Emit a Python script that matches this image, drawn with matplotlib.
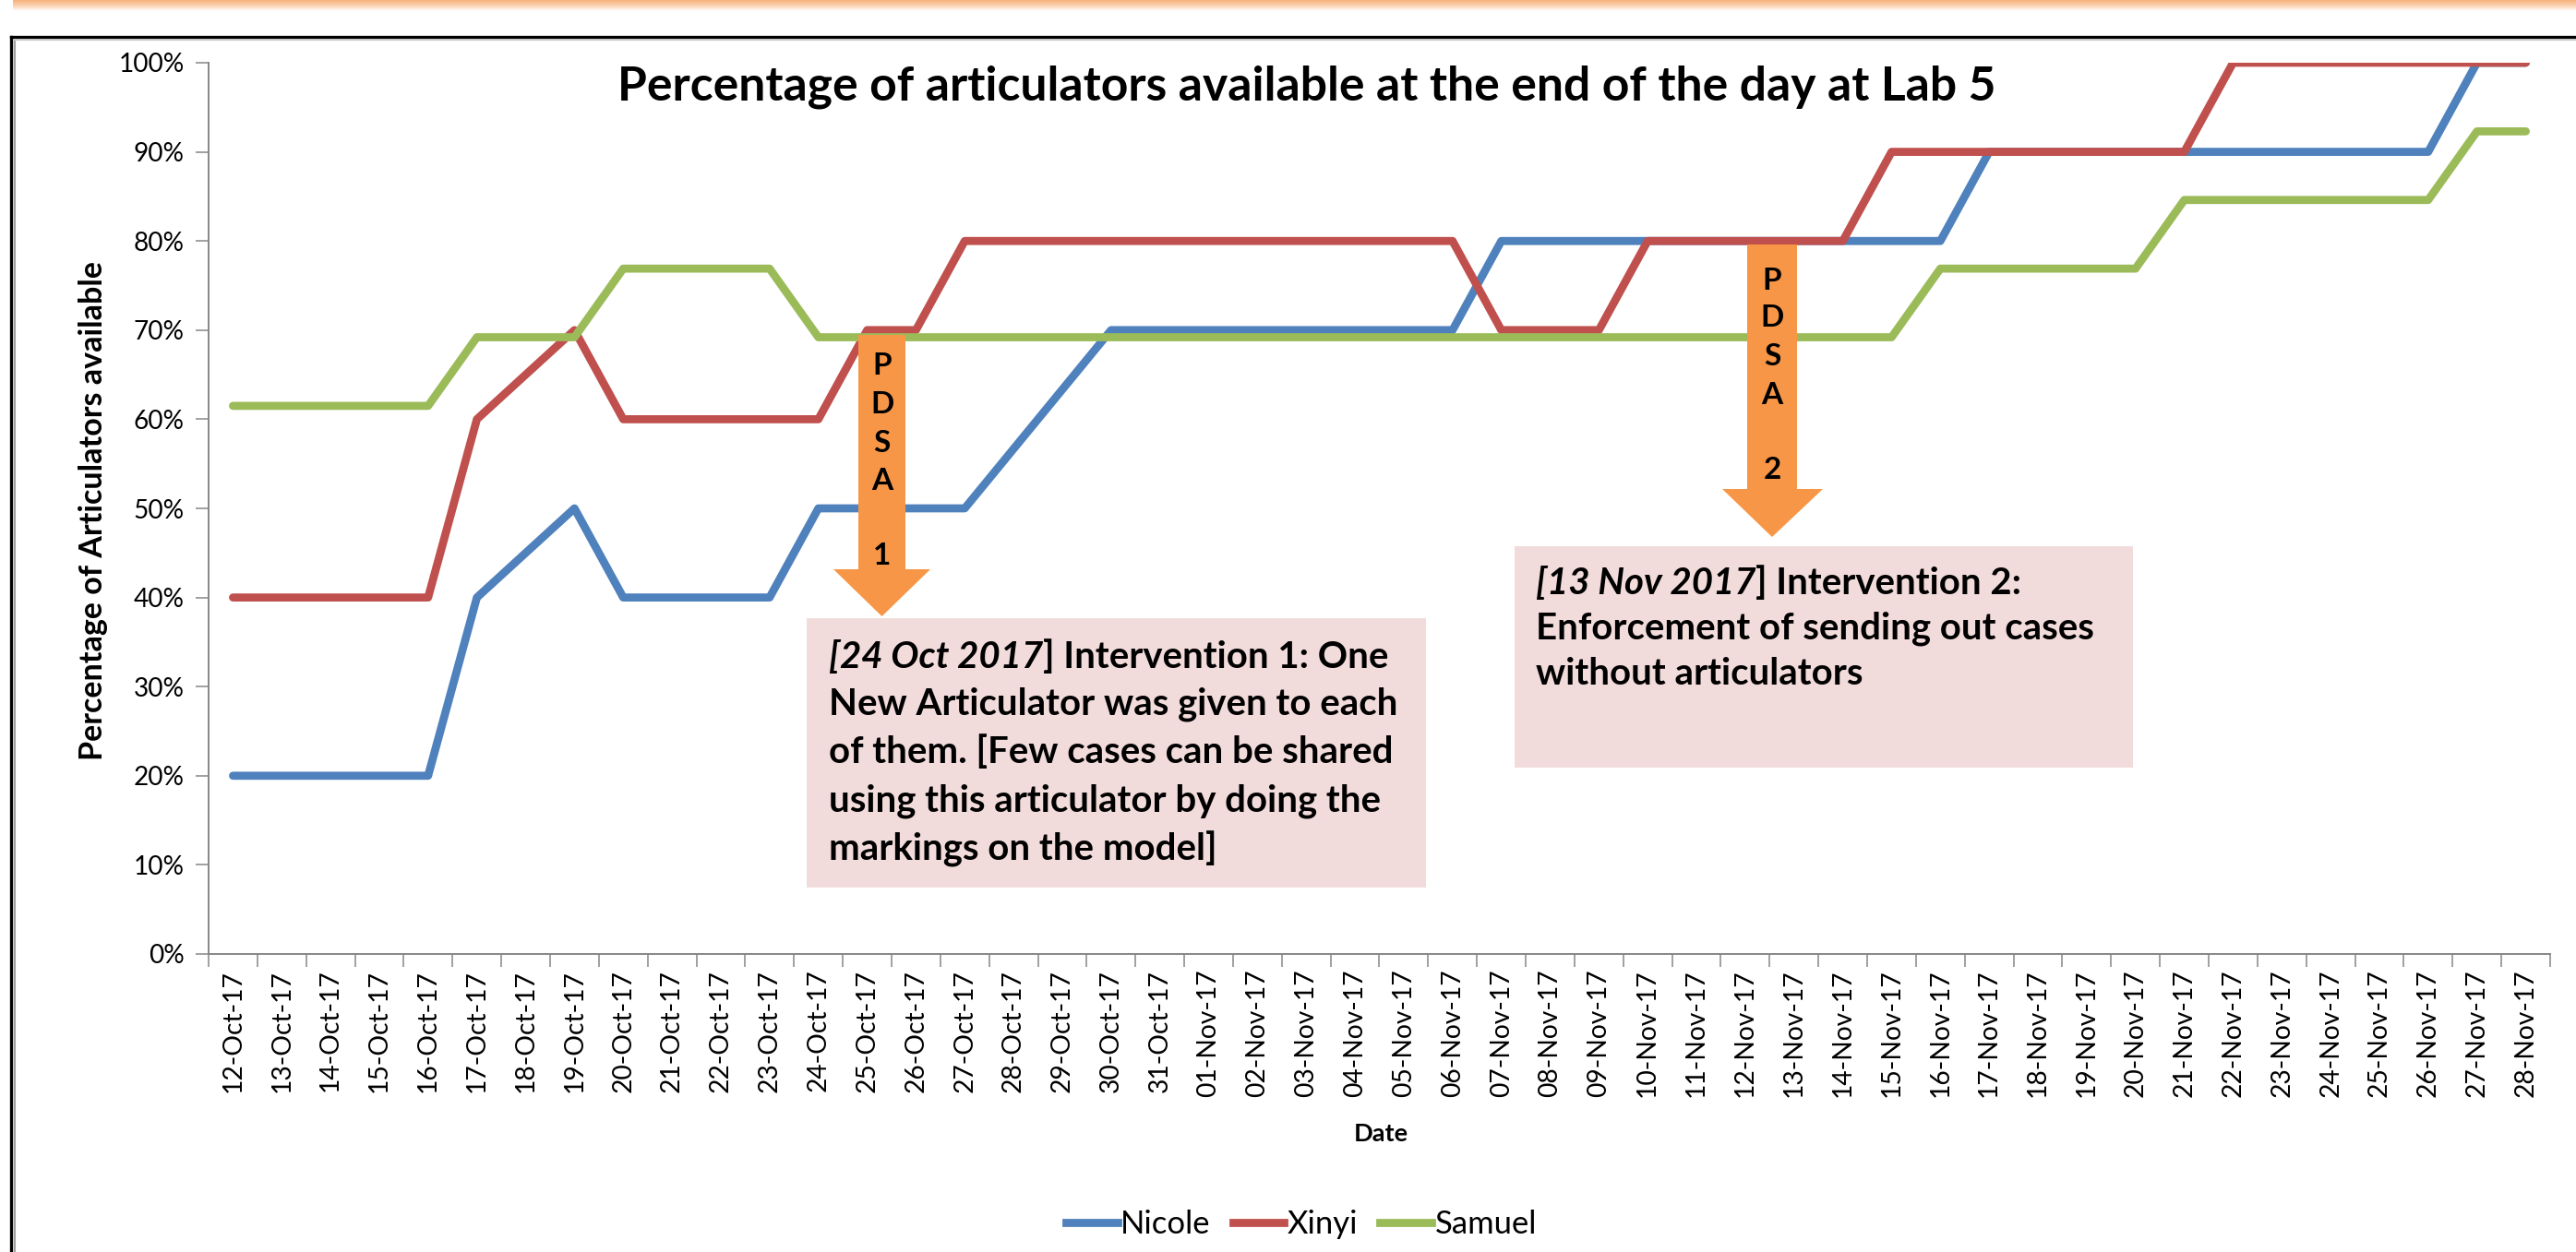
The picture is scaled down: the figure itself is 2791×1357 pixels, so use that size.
import matplotlib
matplotlib.use("Agg")
import matplotlib.pyplot as plt
import numpy as np
from matplotlib.patches import Rectangle, Polygon
from matplotlib.lines import Line2D
from matplotlib.colors import LinearSegmentedColormap

# ---------------- data ----------------
dates = ["12-Oct-17", "13-Oct-17", "14-Oct-17", "15-Oct-17", "16-Oct-17", "17-Oct-17",
         "18-Oct-17", "19-Oct-17", "20-Oct-17", "21-Oct-17", "22-Oct-17", "23-Oct-17",
         "24-Oct-17", "25-Oct-17", "26-Oct-17", "27-Oct-17", "28-Oct-17", "29-Oct-17",
         "30-Oct-17", "31-Oct-17", "01-Nov-17", "02-Nov-17", "03-Nov-17", "04-Nov-17",
         "05-Nov-17", "06-Nov-17", "07-Nov-17", "08-Nov-17", "09-Nov-17", "10-Nov-17",
         "11-Nov-17", "12-Nov-17", "13-Nov-17", "14-Nov-17", "15-Nov-17", "16-Nov-17",
         "17-Nov-17", "18-Nov-17", "19-Nov-17", "20-Nov-17", "21-Nov-17", "22-Nov-17",
         "23-Nov-17", "24-Nov-17", "25-Nov-17", "26-Nov-17", "27-Nov-17", "28-Nov-17"]

# None = no entry that day (line drawn straight across, as in the original)
nicole = [0.20, 0.20, 0.20, 0.20, 0.20, 0.40, None, 0.50, 0.40, 0.40, 0.40, 0.40,
          0.50, 0.50, 0.50, 0.50, None, None, 0.70, 0.70, 0.70, 0.70, 0.70, 0.70,
          0.70, 0.70, 0.80, 0.80, 0.80, 0.80, 0.80, 0.80, 0.80, 0.80, 0.80, 0.80,
          0.90, 0.90, 0.90, 0.90, 0.90, 0.90, 0.90, 0.90, 0.90, 0.90, 1.00, 1.00]
xinyi = [0.40, 0.40, 0.40, 0.40, 0.40, 0.60, None, 0.70, 0.60, 0.60, 0.60, 0.60,
         0.60, 0.70, 0.70, 0.80, None, None, 0.80, 0.80, 0.80, 0.80, 0.80, 0.80,
         0.80, 0.80, 0.70, 0.70, 0.70, 0.80, 0.80, 0.80, 0.80, 0.80, 0.90, 0.90,
         0.90, 0.90, 0.90, 0.90, 0.90, 1.00, 1.00, 1.00, 1.00, 1.00, 1.00, 1.00]
samuel = [0.615, 0.615, 0.615, 0.615, 0.615, 0.692, None, 0.692, 0.769, 0.769, 0.769, 0.769,
          0.692, 0.692, 0.692, 0.692, None, None, 0.692, 0.692, 0.692, 0.692, 0.692, 0.692,
          0.692, 0.692, 0.692, 0.692, 0.692, 0.692, 0.692, 0.692, 0.692, 0.692, 0.692, 0.769,
          0.769, 0.769, 0.769, 0.769, 0.846, 0.846, 0.846, 0.846, 0.846, 0.846, 0.923, 0.923]

series_names = ["Nicole", "Xinyi", "Samuel"]
series_values = [nicole, xinyi, samuel]
series_colors = ["#4F81BD", "#C0504D", "#9BBB59"]
ytick_values = [0.0, 0.1, 0.2, 0.3, 0.4, 0.5, 0.6, 0.7, 0.8, 0.9, 1.0]

title = "Percentage of articulators available at the end of the day at Lab 5"
ylabel = "Percentage of Articulators available"
xlabel = "Date"
box1_lines = [("[24 Oct 2017", "] Intervention 1: One"),
              ("", "New Articulator was given to each"),
              ("", "of them. [Few cases can be shared"),
              ("", "using this articulator by doing the"),
              ("", "markings on the model]")]
box2_lines = [("[13 Nov 2017", "] Intervention 2:"),
              ("", "Enforcement of sending out cases"),
              ("", "without articulators")]
arrow1_letters = ["P", "D", "S", "A", "", "1"]
arrow2_letters = ["P", "D", "S", "A", "", "2"]

# ---------------- figure ----------------
W, H = 2791, 1357
DPI = 100
FONT = "Lato"
fig = plt.figure(figsize=(W / DPI, H / DPI), dpi=DPI, facecolor="white")

def fx(x):
    return x / W

def fy(y):
    return 1 - y / H

renderer = fig.canvas.get_renderer()

def fit(text, target_px, **kw):
    t = fig.text(0, 0, text, fontsize=10, **kw)
    w = t.get_window_extent(renderer).width
    t.remove()
    return 10 * target_px / w

# axes (plot area)
ax_l, ax_r, ax_t, ax_b = 226, 2763, 68, 1034
ax = fig.add_axes([fx(ax_l), fy(ax_b), fx(ax_r) - fx(ax_l), (ax_b - ax_t) / H])
ax.set_facecolor("none")

for name, vals, col in zip(series_names, series_values, series_colors):
    xs = [i for i, v in enumerate(vals) if v is not None]
    ys = [v for v in vals if v is not None]
    ax.plot(xs, ys, color=col, lw=6.3, solid_joinstyle="round",
            solid_capstyle="round", label=name, zorder=3)

ax.set_xlim(-0.5, len(dates) - 0.5)
ax.set_ylim(0, 1)

tick_fs = fit("12-Oct-17", 133, family=FONT)
ytick_fs = fit("100%", 71, family=FONT)

ax.set_xticks(range(len(dates)))
ax.set_xticklabels(dates, rotation=90, fontsize=tick_fs, family=FONT, va="top", ha="center")
ax.set_xticks(np.arange(-0.5, len(dates), 1.0), minor=True)
ax.tick_params(axis="x", which="major", length=0, pad=12)
ax.tick_params(axis="x", which="minor", length=10, width=1.1, color="#868686", direction="out")

ax.set_yticks(ytick_values)
ax.set_yticklabels([f"{int(round(v * 100))}%" for v in ytick_values], fontsize=ytick_fs, family=FONT)
ax.tick_params(axis="y", which="major", length=10, width=1.1, color="#868686", direction="out", pad=9)

for s in ["top", "right"]:
    ax.spines[s].set_visible(False)
for s in ["left", "bottom"]:
    ax.spines[s].set_color("#868686")
    ax.spines[s].set_linewidth(1.4)

# title & axis labels
title_fs = fit(title, 1496, family=FONT, weight="bold")
fig.text(fx(1416), fy(94), title, fontsize=title_fs, family=FONT, weight="bold",
         ha="center", va="center")
yl_fs = fit(ylabel, 540, family=FONT, weight="bold")
fig.text(fx(101), fy(554), ylabel, fontsize=yl_fs, family=FONT, weight="bold",
         rotation=90, ha="center", va="center")
xl_fs = fit(xlabel, 59, family=FONT, weight="bold")
fig.text(fx(1496), fy(1229), xlabel, fontsize=xl_fs, family=FONT, weight="bold",
         ha="center", va="center")

# legend
leg_fs = fit("Samuel", 110, family=FONT)
handles = [Line2D([], [], color=c, lw=6.3) for c in series_colors]
fig.legend(handles, series_names, loc="center", bbox_to_anchor=(fx(1410), fy(1327)),
           ncol=3, frameon=False, prop={"family": FONT, "size": leg_fs},
           handlelength=1.6, handletextpad=0.1, columnspacing=0.7)

# ---------------- annotations ----------------
ORANGE = "#F79646"
PINK = "#F2DCDB"

def arrow(xl, xr, top, hl, hr, base, tip):
    cx = (xl + xr) / 2
    pts = [(xl, top), (xr, top), (xr, base), (hr, base), (cx, tip), (hl, base), (xl, base)]
    p = Polygon([(fx(a), fy(b)) for a, b in pts], closed=True, transform=fig.transFigure,
                facecolor=ORANGE, edgecolor="none", zorder=5)
    fig.add_artist(p)
    return cx

def box(x0, x1, y0, y1):
    r = Rectangle((fx(x0), fy(y1)), fx(x1) - fx(x0), (y1 - y0) / H, transform=fig.transFigure,
                  facecolor=PINK, edgecolor="none", zorder=5)
    fig.add_artist(r)

letter_fs = 24
c1 = arrow(930, 981, 363, 903, 1008, 617, 668)
for ch, yy in zip(arrow1_letters, [397, 438, 480, 521, 562, 603]):
    if ch:
        fig.text(fx(c1), fy(yy), ch, fontsize=letter_fs, family=FONT, weight="bold",
                 ha="center", va="center", zorder=6)
c2 = arrow(1893, 1947, 265, 1866, 1975, 530, 582)
for ch, yy in zip(arrow2_letters, [304, 345, 386, 428, 468, 509]):
    if ch:
        fig.text(fx(c2), fy(yy), ch, fontsize=letter_fs, family=FONT, weight="bold",
                 ha="center", va="center", zorder=6)

box(874, 1545, 670, 962)
box(1641, 2311, 592, 832)

ann_fs = fit("of them. [Few cases can be shared", 612, family=FONT, weight="bold")

def write_lines(lines, x0, y_list):
    for (ital, rest), yy in zip(lines, y_list):
        x = x0
        if ital:
            t = fig.text(fx(x), fy(yy), ital, fontsize=ann_fs, family=FONT, weight="bold",
                         style="italic", ha="left", va="center", zorder=6)
            x += t.get_window_extent(renderer).width
        fig.text(fx(x), fy(yy), rest, fontsize=ann_fs, family=FONT, weight="bold",
                 ha="left", va="center", zorder=6)

write_lines(box1_lines, 898, [712, 763, 815, 868, 920])
write_lines(box2_lines, 1664, [632, 681, 730])

# ---------------- frame & decoration ----------------
fig.add_artist(Line2D([fx(12), fx(12)], [fy(40), 0], transform=fig.transFigure,
                      color="black", lw=2.4, zorder=7))
fig.add_artist(Line2D([fx(12), 1], [fy(40), fy(40)], transform=fig.transFigure,
                      color="black", lw=2.4, zorder=7))
fig.add_artist(Line2D([fx(16), fx(16)], [fy(43), 0], transform=fig.transFigure,
                      color="#A0A0A0", lw=1.5, zorder=7))
fig.add_artist(Line2D([fx(16), 1], [fy(43), fy(43)], transform=fig.transFigure,
                      color="#C8C8C8", lw=1.5, zorder=7))

band = fig.add_axes([fx(14), fy(12), 1 - fx(14), 12 / H])
cmap = LinearSegmentedColormap.from_list("glow", ["#F7B27C", "#FBD2B2", "#FFFFFF"])
grad = np.linspace(0, 1, 50).reshape(-1, 1)
band.imshow(grad, aspect="auto", cmap=cmap, extent=[0, 1, 0, 1], origin="upper")
band.axis("off")

fig.savefig("out.png", dpi=DPI, facecolor="white")
